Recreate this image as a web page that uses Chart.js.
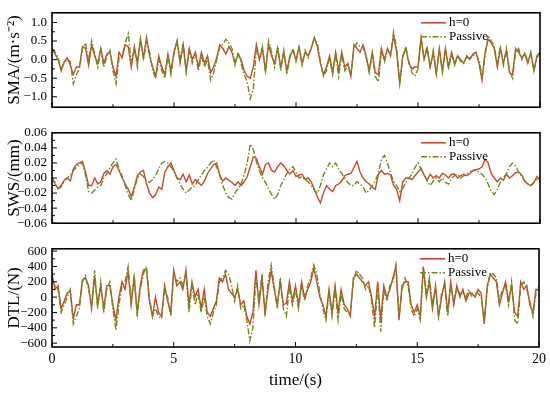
<!DOCTYPE html>
<html>
<head>
<meta charset="utf-8">
<script src="https://cdn.jsdelivr.net/npm/chart.js@4.4.0/dist/chart.umd.min.js"></script>
<style>
body { margin: 0; background: #fff; }
#wrap { position: relative; width: 550px; height: 394px; }
canvas { position: absolute; left: 0; }
</style>
</head>
<body>
<div id="wrap">
  <canvas id="smaChart" width="550" height="120" style="top:0px"></canvas>
  <canvas id="swsChart" width="550" height="116" style="top:120px"></canvas>
  <canvas id="dtlChart" width="550" height="158" style="top:236px"></canvas>
</div>
<script>
// sample grid, 0.125 s
const time = Array.from({ length: 161 }, (_, i) => i * 0.125);

const seriesNames = ['h=0', 'Passive'];

const xTicks = [0, 5, 10, 15, 20];
const xTickLabels = ['0', '5', '10', '15', '20'];

const smaTicks = [-1.0, -0.5, 0.0, 0.5, 1.0];
const smaTickLabels = ['\u22121.0', '\u22120.5', '0.0', '0.5', '1.0'];
const swsTicks = [-0.06, -0.04, -0.02, 0.00, 0.02, 0.04, 0.06];
const swsTickLabels = ['\u22120.06', '\u22120.04', '\u22120.02', '0.00', '0.02', '0.04', '0.06'];
const dtlTicks = [-600, -400, -200, 0, 200, 400, 600];
const dtlTickLabels = ['\u2212600', '\u2212400', '\u2212200', '0', '200', '400', '600'];

// SMA (m/s^2)
const smaH0 = [
  0.30, 0.15, 0.00, -0.30, -0.05, 0.05, -0.15, -0.40,
  -0.20, -0.20, 0.35, 0.30, -0.15, 0.40, 0.10, -0.10,
  0.30, -0.10, 0.15, 0.20, -0.20, -0.45, 0.20, 0.05,
  0.40, 0.35, -0.20, 0.35, -0.10, 0.55, 0.05, 0.60,
  0.10, -0.20, -0.45, 0.10, -0.20, -0.40, 0.15, -0.30,
  0.20, 0.50, -0.10, 0.40, -0.30, 0.30, 0.00, 0.20,
  -0.20, 0.20, -0.10, 0.10, -0.35, -0.20, 0.05, 0.40,
  0.30, 0.15, 0.35, 0.20, -0.10, 0.15, 0.00, -0.30,
  -0.45, -0.50, -0.20, 0.40, 0.00, 0.30, -0.30, 0.40,
  0.10, -0.10, 0.30, -0.20, 0.20, -0.30, 0.10, 0.25,
  0.00, 0.35, -0.10, 0.20, 0.10, 0.30, 0.60, 0.35,
  -0.10, -0.40, -0.20, 0.10, -0.35, 0.20, -0.30, 0.20,
  -0.20, -0.10, -0.45, 0.40, 0.30, 0.20, 0.40, 0.10,
  -0.30, 0.20, -0.35, -0.40, 0.30, 0.00, 0.30, 0.10,
  0.65, 0.20, -0.65, 0.10, 0.30, -0.10, -0.25, -0.20,
  -0.20, 0.60, 0.00, 0.30, -0.20, 0.20, -0.40, 0.30,
  -0.30, 0.30, -0.20, 0.20, -0.10, 0.10, 0.00, -0.10,
  0.10, 0.00, 0.15, 0.20, -0.10, -0.55, 0.20, 0.55,
  0.45, 0.30, -0.20, 0.30, -0.10, 0.25, -0.35, -0.40,
  0.30, 0.20, 0.05, 0.15, -0.10, 0.20, -0.30, 0.10,
  0.20
];
const smaPassive = [
  0.30, 0.20, 0.05, -0.25, -0.10, 0.00, -0.05, -0.65,
  -0.40, -0.25, 0.30, 0.45, -0.05, 0.50, 0.15, -0.20,
  0.25, -0.20, 0.10, 0.25, -0.30, -0.65, 0.05, 0.10,
  0.45, 0.70, -0.10, 0.30, -0.20, 0.55, 0.00, 0.50,
  0.20, -0.30, -0.50, 0.00, -0.30, -0.50, 0.10, -0.40,
  0.15, 0.50, 0.00, 0.45, -0.35, 0.25, -0.10, 0.15,
  -0.30, 0.10, -0.20, 0.00, -0.55, -0.35, 0.00, 0.35,
  0.40, 0.55, 0.45, 0.30, -0.15, 0.20, -0.10, -0.40,
  -0.60, -1.05, -0.80, 0.30, 0.05, 0.35, -0.35, 0.50,
  0.20, -0.20, 0.35, -0.30, 0.25, -0.40, 0.05, 0.30,
  -0.05, 0.30, -0.15, 0.25, 0.05, 0.35, 0.55, 0.45,
  -0.05, -0.45, -0.30, 0.05, -0.40, 0.15, -0.45, 0.15,
  -0.30, -0.15, -0.40, 0.30, 0.45, 0.35, 0.35, 0.05,
  -0.35, 0.15, -0.45, -0.60, 0.20, -0.05, 0.25, 0.15,
  0.75, 0.30, -0.60, 0.05, 0.35, -0.05, -0.35, -0.45,
  -0.25, 0.55, 0.05, 0.35, -0.25, 0.25, -0.35, 0.25,
  -0.35, 0.25, -0.25, 0.15, -0.15, 0.10, -0.05, -0.05,
  0.05, 0.05, 0.10, 0.15, 0.00, -0.45, 0.10, 0.65,
  0.50, 0.35, -0.10, 0.35, -0.15, 0.30, -0.30, -0.50,
  0.20, 0.30, 0.00, 0.20, -0.05, 0.15, -0.30, 0.05,
  0.20
];

// SWS (mm)
const swsH0 = [
  0.000, -0.008, -0.014, -0.010, -0.003, 0.000, -0.004, 0.012,
  0.018, 0.020, 0.022, 0.008, -0.010, -0.010, 0.000, -0.008,
  -0.005, 0.006, 0.010, 0.005, 0.015, 0.018, 0.010, 0.000,
  -0.008, -0.015, -0.025, -0.012, 0.003, 0.008, 0.010, -0.008,
  -0.020, -0.026, -0.022, -0.012, -0.015, 0.008, 0.015, 0.020,
  0.010, 0.000, -0.002, 0.005, -0.005, 0.004, -0.008, -0.002,
  -0.006, -0.010, -0.004, 0.006, 0.012, 0.018, 0.020, 0.004,
  -0.004, 0.000, -0.003, -0.006, -0.010, -0.005, -0.010, -0.005,
  0.002, 0.015, 0.028, 0.026, 0.015, 0.005, 0.018, 0.020,
  0.010, 0.008, 0.015, 0.020, 0.016, 0.010, 0.005, 0.010,
  0.002, 0.004, 0.005, -0.002, 0.000, -0.005, -0.015, -0.025,
  -0.033, -0.020, -0.010, -0.015, -0.018, -0.010, -0.008, -0.004,
  0.003, 0.005, 0.006, 0.014, 0.022, 0.008, 0.000, -0.005,
  -0.008, -0.012, -0.015, 0.005, 0.010, 0.005, 0.006, 0.004,
  -0.010, -0.015, -0.030, -0.005, 0.000, 0.000, -0.002, 0.003,
  0.008, 0.013, 0.004, -0.003, 0.005, 0.000, 0.003, 0.000,
  0.006, 0.004, 0.000, 0.005, 0.005, 0.000, 0.003, 0.005,
  0.003, 0.006, 0.010, 0.011, 0.012, 0.015, 0.025, 0.020,
  0.006, 0.000, -0.005, 0.000, -0.003, 0.005, 0.000, 0.003,
  0.007, 0.008, 0.004, -0.004, -0.008, -0.010, -0.006, 0.002,
  -0.003
];
const swsPassive = [
  0.000, -0.006, -0.014, -0.012, -0.004, 0.000, 0.004, 0.010,
  0.014, 0.018, 0.020, 0.004, -0.018, -0.020, -0.016, -0.012,
  -0.010, 0.000, 0.006, 0.014, 0.020, 0.025, 0.012, 0.002,
  -0.010, -0.022, -0.030, -0.015, 0.000, 0.005, 0.002, -0.004,
  -0.006, -0.002, 0.004, 0.012, 0.020, 0.022, 0.020, 0.015,
  0.008, 0.000, -0.008, -0.015, -0.020, -0.016, -0.012, -0.010,
  -0.002, 0.004, 0.010, 0.014, 0.020, 0.024, 0.014, 0.004,
  -0.010, -0.020, -0.026, -0.028, -0.020, -0.014, -0.008, 0.004,
  0.020, 0.045, 0.038, 0.022, 0.010, 0.000, -0.006, -0.014,
  -0.022, -0.028, -0.022, -0.010, -0.002, 0.006, 0.012, 0.015,
  0.008, 0.000, 0.002, -0.002, -0.005, -0.010, -0.016, -0.020,
  -0.010, 0.004, 0.012, 0.020, 0.015, 0.020, 0.012, 0.006,
  0.000, -0.006, -0.010, -0.010, -0.005, -0.008, -0.012, -0.020,
  -0.016, -0.010, -0.004, 0.006, 0.025, 0.030, 0.020, 0.006,
  -0.004, -0.010, -0.018, -0.014, -0.006, 0.000, 0.005, 0.014,
  0.020, 0.012, 0.004, -0.004, -0.010, -0.004, 0.000, -0.005,
  0.000, -0.006, -0.008, 0.000, 0.003, 0.005, 0.000, 0.003,
  0.005, 0.008, 0.010, 0.010, 0.008, 0.005, 0.000, -0.008,
  -0.018, -0.022, -0.015, -0.006, 0.000, 0.006, 0.015, 0.020,
  0.016, 0.008, 0.002, -0.004, -0.008, -0.010, -0.006, -0.002,
  0.000
];

// DTL (N)
const dtlH0 = [
  300, 100, 150, -150, -50, 50, 80, -280,
  -100, -100, 220, 250, 150, -150, 280, -100,
  150, -150, 150, 150, -100, -300, 0, 200,
  100, 340, -100, 250, -200, 150, 350, 370,
  -50, -250, 0, -200, -250, 150, -50, -200,
  350, 150, 200, 100, 350, -100, 200, 0,
  100, -150, 100, -200, -250, -150, -50, 250,
  200, 300, 100, 50, 0, 100, -100, -50,
  -250, -350, -200, 350, -100, 250, -200, 100,
  350, 100, -100, 200, -100, -80, 200, -50,
  150, -100, 200, 0, 100, 200, 380, 200,
  0, -100, -250, 100, -200, 150, -200, 100,
  -100, -150, -250, 250, 300, 250, 200, 150,
  200, 0, -250, 200, -300, 150, 0, 100,
  250, 400, -300, 150, 200, 200, -100, -200,
  -100, -250, 400, 0, 200, -150, 150, -250,
  0, 200, -200, 200, -100, 150, 0, 100,
  -50, 50, 50, 0, 100, 50, -350, 150,
  300, 250, 200, -100, 50, 200, -50, 150,
  -200, -250, 200, 100, 150, -100, -200, 100,
  100
];
const dtlPassive = [
  250, 150, 100, -200, -100, 0, 100, -350,
  -250, -150, 200, 280, 100, -100, 350, -150,
  200, -200, 100, 200, -150, -430, -100, 150,
  200, 400, -50, 300, -250, 100, 300, 400,
  0, -250, -150, -250, -280, 100, 0, -250,
  300, 200, 250, 150, 300, -200, 150, -100,
  50, -200, 0, -250, -350, -200, -100, 200,
  250, 350, 300, 150, -50, 150, -150, -100,
  -300, -570, -400, 250, -50, 300, -250, 200,
  420, 150, -150, 250, -150, -250, 150, -100,
  100, -150, 150, -50, 150, 250, 420, 300,
  50, -150, -300, 50, -250, 100, -300, 50,
  -150, -200, -200, 200, 350, 300, 250, 100,
  150, -50, -400, 150, -450, 100, -50, 150,
  200, 420, -250, 100, 250, 150, -150, -250,
  -150, -300, 380, 50, 250, -100, 100, -250,
  50, 150, -250, 150, -50, 100, 50, 50,
  0, 100, 0, 50, 50, 0, -300, 100,
  320, 300, 250, -50, 100, 150, -100, 200,
  -300, -350, 150, 200, 100, -50, -250, 50,
  150
];

const FONT = '"Liberation Serif", "Times New Roman", serif';
const h0Color = '#c8482c';
const passiveColor = '#6e8a1a';

// inward ticks + frame + legend inside the plot
const panelDecor = {
  id: 'panelDecor',
  afterDraw(chart) {
    const { ctx, chartArea: a, scales } = chart;
    const yt = chart.options.plugins.panelDecor.yTicks;
    ctx.save();
    ctx.strokeStyle = '#000';
    ctx.lineWidth = 1;
    ctx.beginPath();
    xTicks.forEach((v, i) => {
      const p = scales.x.getPixelForValue(v);
      ctx.moveTo(p, a.bottom); ctx.lineTo(p, a.bottom - 5);
      if (i < xTicks.length - 1) {
        const m = scales.x.getPixelForValue((v + xTicks[i + 1]) / 2);
        ctx.moveTo(m, a.bottom); ctx.lineTo(m, a.bottom - 3);
      }
    });
    yt.forEach((v, i) => {
      const p = scales.y.getPixelForValue(v);
      ctx.moveTo(a.left, p); ctx.lineTo(a.left + 5, p);
      if (i < yt.length - 1) {
        const m = scales.y.getPixelForValue((v + yt[i + 1]) / 2);
        ctx.moveTo(a.left, m); ctx.lineTo(a.left + 3, m);
      }
    });
    ctx.stroke();

    ctx.lineWidth = 1.6;
    ctx.strokeRect(a.left, a.top, a.right - a.left, a.bottom - a.top);

    // legend
    chart.data.datasets.forEach((ds, i) => {
      const y = a.top + 10 + i * 14;
      ctx.beginPath();
      ctx.strokeStyle = ds.borderColor;
      ctx.lineWidth = 1.6;
      ctx.setLineDash(ds.borderDash || []);
      ctx.moveTo(a.right - 119, y); ctx.lineTo(a.right - 94, y);
      ctx.stroke();
      ctx.setLineDash([]);
      ctx.fillStyle = '#000';
      ctx.font = '13px ' + FONT;
      ctx.textBaseline = 'middle';
      ctx.fillText(ds.label, a.right - 91, y);
    });
    ctx.restore();
  }
};

function makePanel(id, h0, passive, yMin, yMax, yt, ytLabels, yTitle, pad, xHeight, showX) {
  const pts = arr => arr.map((v, i) => ({ x: time[i], y: v }));
  return new Chart(document.getElementById(id), {
    type: 'line',
    data: {
      datasets: [
        { label: seriesNames[0], data: pts(h0), borderColor: h0Color, borderWidth: 1.4, pointRadius: 0, order: 2 },
        { label: seriesNames[1], data: pts(passive), borderColor: passiveColor, borderWidth: 1.4, pointRadius: 0, order: 1,
          borderDash: [6, 2, 1.5, 2] }
      ]
    },
    options: {
      responsive: false,
      animation: false,
      layout: { padding: { left: 4, right: 10, top: pad, bottom: 0 } },
      plugins: { legend: { display: false }, tooltip: { enabled: false }, panelDecor: { yTicks: yt } },
      scales: {
        x: {
          type: 'linear', min: 0, max: 20,
          afterBuildTicks: s => { s.ticks = xTicks.map(v => ({ value: v })); },
          afterFit: s => { s.height = xHeight; },
          grid: { display: false, drawTicks: false },
          border: { display: false },
          ticks: { display: showX, autoSkip: false, color: '#000', font: { family: FONT, size: 14 }, padding: 4, maxRotation: 0,
                   callback: (v, i) => xTickLabels[i] },
          title: { display: showX, text: 'time/(s)', color: '#000', font: { family: FONT, size: 17 }, padding: { top: 0, bottom: 3 } }
        },
        y: {
          min: yMin, max: yMax,
          afterBuildTicks: s => { s.ticks = yt.map(v => ({ value: v })); },
          afterFit: s => { s.width = 48; },
          grid: { display: false, drawTicks: false },
          border: { display: false },
          ticks: { autoSkip: false, color: '#000', font: { family: FONT, size: 13 }, padding: 5, callback: (v, i) => ytLabels[i] },
          title: { display: true, text: yTitle, color: '#000', font: { family: FONT, size: 17 }, padding: 0 }
        }
      }
    },
    plugins: [panelDecor]
  });
}

makePanel('smaChart', smaH0, smaPassive, -1.28, 1.26, smaTicks, smaTickLabels, 'SMA/(m\u00B7s\u207B\u00B2)', 8, 6, false);
makePanel('swsChart', swsH0, swsPassive, -0.06, 0.06, swsTicks, swsTickLabels, 'SWS/(mm)', 5, 5, false);
makePanel('dtlChart', dtlH0, dtlPassive, -650, 630, dtlTicks, dtlTickLabels, 'DTL/(N)', 7, 47, true);
</script>
</body>
</html>
